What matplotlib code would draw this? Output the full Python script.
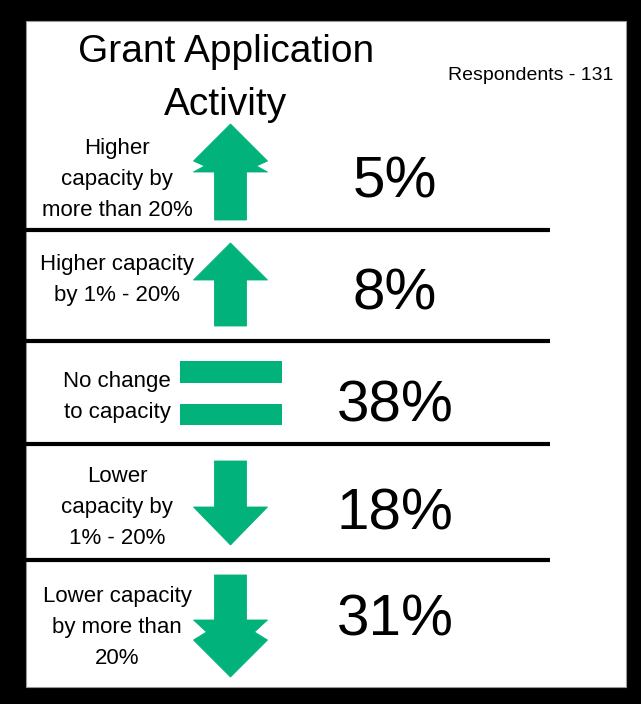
import matplotlib.pyplot as plt
from matplotlib.patches import Polygon, Rectangle

plt.rcParams['font.family'] = ['Liberation Sans', 'DejaVu Sans']

GREEN = '#01b27a'

# survey rows, top to bottom
labels = [['Higher', 'capacity by', 'more than 20%'],
          ['Higher capacity', 'by 1% - 20%'],
          ['No change', 'to capacity'],
          ['Lower', 'capacity by', '1% - 20%'],
          ['Lower capacity', 'by more than', '20%']]
percents = [5, 8, 38, 18, 31]
kinds = ['up2', 'up1', 'equal', 'down1', 'down2']
respondents = 131

# layout in pixel space (y grows downward)
pct_base = [198, 309, 421, 529, 636]
label_base = [154, 270, 387, 482, 602]
line_step = 31
arrow_top = [124, 243, 361, 461, 575]
sep_y = [230, 341, 444, 560]
arrow_x = 230.5

fig = plt.figure(figsize=(6.41, 7.04), dpi=100, facecolor='black')
ax = fig.add_axes([0, 0, 1, 1])
ax.set_xlim(0, 641)
ax.set_ylim(704, 0)
ax.axis('off')

ax.add_patch(Rectangle((26, 21), 600, 666, facecolor='white',
                       edgecolor='#999999', linewidth=0.8))

ax.text(226, 62, 'Grant Application', ha='center', va='baseline', fontsize=28)
ax.text(226, 115, 'Activity', ha='center', va='baseline', fontsize=28)
ax.text(531, 80, f'Respondents - {respondents}', ha='center', va='baseline',
        fontsize=14)

for y in sep_y:
    ax.plot([26, 550], [y, y], color='black', linewidth=3, solid_capstyle='butt')


def arrow_shape(kind, cx, top):
    hw, sw = 37, 16
    if kind == 'up1':
        pts = [(0, 0), (hw, 37), (sw, 37), (sw, 83), (-sw, 83),
               (-sw, 37), (-hw, 37)]
    elif kind == 'up2':
        pts = [(0, 0), (hw, 37), (26, 42), (hw, 48), (sw, 48), (sw, 96),
               (-sw, 96), (-sw, 48), (-hw, 48), (-26, 42), (-hw, 37)]
    elif kind == 'down1':
        pts = [(-sw, 0), (sw, 0), (sw, 46), (hw, 46), (0, 84),
               (-hw, 46), (-sw, 46)]
    else:
        pts = [(-sw, 0), (sw, 0), (sw, 45), (hw, 45), (24, 57), (hw, 65),
               (0, 102), (-hw, 65), (-24, 57), (-hw, 45), (-sw, 45)]
    return [(cx + px, top + py) for px, py in pts]


for kind, top in zip(kinds, arrow_top):
    if kind == 'equal':
        ax.add_patch(Rectangle((arrow_x - 51, top), 102, 22,
                               facecolor=GREEN, edgecolor='none'))
        ax.add_patch(Rectangle((arrow_x - 51, top + 43), 102, 21,
                               facecolor=GREEN, edgecolor='none'))
    else:
        ax.add_patch(Polygon(arrow_shape(kind, arrow_x, top), closed=True,
                             facecolor=GREEN, edgecolor=GREEN, linewidth=0.6,
                             joinstyle='round'))

for lines, y0 in zip(labels, label_base):
    for i, line in enumerate(lines):
        ax.text(117, y0 + i * line_step, line, ha='center', va='baseline',
                fontsize=16)

for p, y in zip(percents, pct_base):
    ax.text(395, y, f'{p}%', ha='center', va='baseline', fontsize=42)

fig.savefig('out.png', dpi=100, facecolor='black')
